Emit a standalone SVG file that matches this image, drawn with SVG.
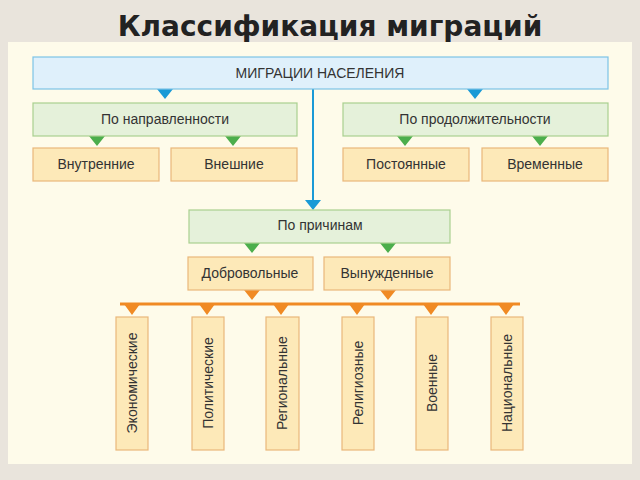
<svg xmlns="http://www.w3.org/2000/svg" width="640" height="480" viewBox="0 0 640 480">
<style>
text{font-family:"Liberation Sans",Arial,sans-serif;font-size:14px;fill:#333;text-anchor:middle;dominant-baseline:central}
.b{fill:#dff0fb;stroke:#7cc3e6;stroke-width:1.2}
.g{fill:#e5f1da;stroke:#a9d08f;stroke-width:1.2}
.o{fill:#fde9b8;stroke:#e9b77a;stroke-width:1.2}
.tb{fill:#1a9ad6}.tg{fill:#4cae4c}.to{fill:#f08a24}
</style>
<rect width="640" height="480" fill="#e9e4dc"/>
<rect x="8" y="42" width="624" height="422" fill="#fefbea"/>
<text x="330" y="26" style="font-size:28px;font-weight:bold;fill:#222;font-family:'DejaVu Sans',sans-serif">Классификация миграций</text>
<g id="connectors">
<line x1="313" y1="89" x2="313" y2="202" stroke="#1a9ad6" stroke-width="2"/>
<path class="tb" d="M157 89h16l-8 10zM467 89h16l-8 10zM305 200h16l-8 10z"/>
<path class="tg" d="M89 136h16l-8 10zM225 136h16l-8 10zM397 136h16l-8 10zM532 136h16l-8 10zM244 243h16l-8 10zM380 243h16l-8 10z"/>
<line x1="120" y1="304" x2="520" y2="304" stroke="#f08a24" stroke-width="3"/>
<path class="to" d="M244 290h16l-8 10zM380 290h16l-8 10zM124 304h16l-8 11zM199 304h16l-8 11zM273 304h16l-8 11zM349 304h16l-8 11zM423 304h16l-8 11zM498 304h16l-8 11z"/>
</g>
<g id="root"><rect class="b" x="33" y="57" width="575" height="32"/><text x="320" y="73">МИГРАЦИИ  НАСЕЛЕНИЯ</text></g>
<g id="dir"><rect class="g" x="33" y="103" width="264" height="33"/><text x="165" y="119">По направленности</text></g>
<g id="dur"><rect class="g" x="343" y="103" width="265" height="33"/><text x="475" y="119">По продолжительности</text></g>
<g id="n1"><rect class="o" x="33" y="148" width="126" height="33"/><text x="96" y="164">Внутренние</text></g>
<g id="n2"><rect class="o" x="171" y="148" width="126" height="33"/><text x="234" y="164">Внешние</text></g>
<g id="n3"><rect class="o" x="343" y="148" width="126" height="33"/><text x="406" y="164">Постоянные</text></g>
<g id="n4"><rect class="o" x="482" y="148" width="126" height="33"/><text x="545" y="164">Временные</text></g>
<g id="cause"><rect class="g" x="189" y="210" width="261" height="33"/><text x="320" y="225">По причинам</text></g>
<g id="vol"><rect class="o" x="188" y="257" width="125" height="33"/><text x="250" y="273">Добровольные</text></g>
<g id="forced"><rect class="o" x="324" y="257" width="126" height="33"/><text x="387" y="273">Вынужденные</text></g>
<g id="c1"><rect class="o" x="116" y="317" width="32" height="133"/><text transform="translate(132 383) rotate(-90)">Экономические</text></g>
<g id="c2"><rect class="o" x="192" y="317" width="32" height="133"/><text transform="translate(208 383) rotate(-90)">Политические</text></g>
<g id="c3"><rect class="o" x="266" y="317" width="33" height="133"/><text transform="translate(282 383) rotate(-90)">Региональные</text></g>
<g id="c4"><rect class="o" x="342" y="317" width="32" height="133"/><text transform="translate(358 383) rotate(-90)">Религиозные</text></g>
<g id="c5"><rect class="o" x="416" y="317" width="32" height="133"/><text transform="translate(432 383) rotate(-90)">Военные</text></g>
<g id="c6"><rect class="o" x="491" y="317" width="32" height="133"/><text transform="translate(507 383) rotate(-90)">Национальные</text></g>
</svg>
